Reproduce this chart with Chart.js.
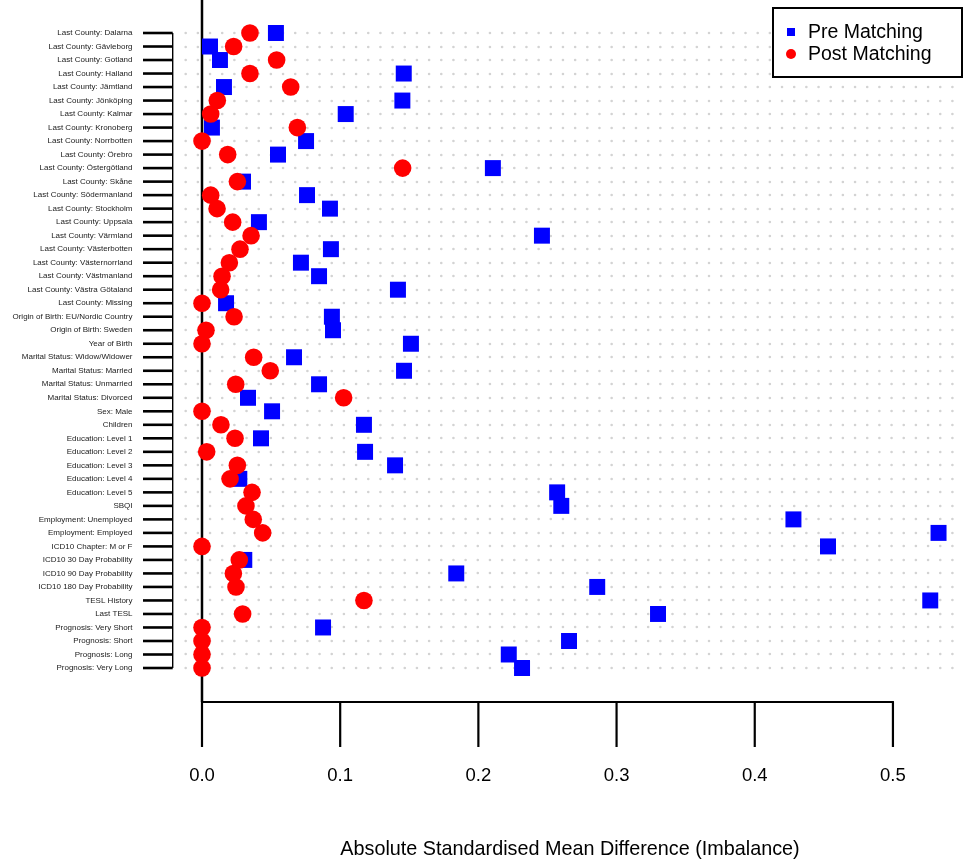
<!DOCTYPE html>
<html><head><meta charset="utf-8">
<script src="https://cdn.jsdelivr.net/npm/chart.js@4.4.0/dist/chart.umd.min.js"></script>
<style>html,body{margin:0;padding:0;background:#fff;overflow:hidden}canvas{display:block}</style>
</head><body>
<canvas id="c" width="963" height="865"></canvas>
<script>
const categories = [
  'Last County: Dalarna','Last County: Gävleborg','Last County: Gotland','Last County: Halland',
  'Last County: Jämtland','Last County: Jönköping','Last County: Kalmar','Last County: Kronoberg',
  'Last County: Norrbotten','Last County: Örebro','Last County: Östergötland','Last County: Skåne',
  'Last County: Södermanland','Last County: Stockholm','Last County: Uppsala','Last County: Värmland',
  'Last County: Västerbotten','Last County: Västernorrland','Last County: Västmanland','Last County: Västra Götaland',
  'Last County: Missing','Origin of Birth: EU/Nordic Country','Origin of Birth: Sweden','Year of Birth',
  'Marital Status: Widow/Widower','Marital Status: Married','Marital Status: Unmarried','Marital Status: Divorced',
  'Sex: Male','Children','Education: Level 1','Education: Level 2',
  'Education: Level 3','Education: Level 4','Education: Level 5','SBQI',
  'Employment: Unemployed','Employment: Employed','ICD10 Chapter: M or F','ICD10 30 Day Probability',
  'ICD10 90 Day Probability','ICD10 180 Day Probability','TESL History','Last TESL',
  'Prognosis: Very Short','Prognosis: Short','Prognosis: Long','Prognosis: Very Long'
];
const preMatching = [
  0.0535, 0.0058, 0.013, 0.146, 0.0159, 0.145, 0.104, 0.0072,
  0.0753, 0.055, 0.2105, 0.0297, 0.076, 0.0926, 0.0412, 0.246,
  0.0933, 0.0716, 0.0847, 0.1418, 0.0174, 0.094, 0.0948, 0.1512,
  0.0666, 0.1462, 0.0847, 0.0333, 0.0507, 0.1172, 0.0427, 0.118,
  0.1397, 0.027, 0.257, 0.26, 0.428, 0.533, 0.453, 0.0306,
  0.184, 0.286, 0.527, 0.330, 0.0876, 0.2656, 0.222, 0.2316
];
const postMatching = [
  0.0347, 0.0229, 0.054, 0.0347, 0.0642, 0.0111, 0.0063, 0.069,
  0.0, 0.0186, 0.1452, 0.0256, 0.0063, 0.0109, 0.0222, 0.0355,
  0.0275, 0.0198, 0.0145, 0.0135, 0.0, 0.0232, 0.0029, 0.0,
  0.0374, 0.0494, 0.0244, 0.1025, 0.0, 0.0137, 0.0239, 0.0034,
  0.0256, 0.0203, 0.0362, 0.0318, 0.0371, 0.0439, 0.0, 0.027,
  0.0227, 0.0246, 0.1172, 0.0294, 0.0, 0.0, 0.0, 0.0
];
const xTicks = [0, 0.1, 0.2, 0.3, 0.4, 0.5];
const xTickLabels = ['0.0', '0.1', '0.2', '0.3', '0.4', '0.5'];
const seriesNames = ['Pre Matching', 'Post Matching'];
const seriesColors = ['#0000FF', '#FF0000'];
const xTitle = 'Absolute Standardised Mean Difference (Imbalance)';

const FONT = '"Liberation Sans", Arial, Helvetica, sans-serif';

const drawPlugin = {
  id: 'rdraw',
  beforeDatasetsDraw(chart) {
    const ctx = chart.ctx, xs = chart.scales.x, ys = chart.scales.y;
    const W = chart.width;
    ctx.save();
    // dotted grid lines per row
    ctx.strokeStyle = '#d3d3d3';
    ctx.lineWidth = 2.6;
    ctx.lineCap = 'round';
    ctx.setLineDash([0, 12.17]);
    categories.forEach((c, i) => {
      const y = Math.round(ys.getPixelForValue(i));
      ctx.beginPath();
      ctx.moveTo(185.7, y);
      ctx.lineTo(W, y);
      ctx.stroke();
    });
    ctx.setLineDash([]);
    ctx.lineCap = 'butt';
    // zero reference line
    const x0 = xs.getPixelForValue(0);
    ctx.strokeStyle = '#000';
    ctx.lineWidth = 2.5;
    ctx.beginPath();
    ctx.moveTo(x0, 0);
    ctx.lineTo(x0, chart.chartArea.bottom);
    ctx.stroke();
    ctx.restore();
  },
  afterDraw(chart) {
    const ctx = chart.ctx, xs = chart.scales.x, ys = chart.scales.y;
    const bottom = chart.chartArea.bottom;
    ctx.save();
    // y axis
    const yTop = ys.getPixelForValue(0), yBot = ys.getPixelForValue(categories.length - 1);
    const axX = 172.7;
    ctx.strokeStyle = '#000';
    ctx.lineWidth = 1.4;
    ctx.beginPath();
    ctx.moveTo(axX, yTop); ctx.lineTo(axX, yBot);
    ctx.stroke();
    ctx.lineWidth = 2.6;
    ctx.fillStyle = '#1a1a1a';
    ctx.font = '8px ' + FONT;
    ctx.textAlign = 'right';
    ctx.textBaseline = 'middle';
    categories.forEach((c, i) => {
      const y = ys.getPixelForValue(i);
      ctx.beginPath();
      ctx.moveTo(143, y); ctx.lineTo(axX, y);
      ctx.stroke();
      ctx.fillText(c, 132.5, y);
    });
    // x axis
    const xa = xs.getPixelForValue(xTicks[0]), xb = xs.getPixelForValue(xTicks[xTicks.length - 1]);
    ctx.lineWidth = 2.2;
    ctx.beginPath();
    ctx.moveTo(xa - 1, bottom); ctx.lineTo(xb + 1, bottom);
    ctx.stroke();
    ctx.font = '18.5px ' + FONT;
    ctx.textAlign = 'center';
    ctx.fillStyle = '#000';
    xTicks.forEach((t, i) => {
      const x = xs.getPixelForValue(t);
      ctx.beginPath();
      ctx.moveTo(x, bottom); ctx.lineTo(x, bottom + 45);
      ctx.stroke();
      ctx.fillText(xTickLabels[i], x, bottom + 74);
    });
    ctx.font = '19.8px ' + FONT;
    ctx.fillText(xTitle, 570, 850);
    // legend
    ctx.fillStyle = '#fff';
    ctx.fillRect(773, 8, 189, 69);
    ctx.strokeStyle = '#000';
    ctx.lineWidth = 2;
    ctx.strokeRect(773, 8, 189, 69);
    ctx.textAlign = 'left';
    ctx.font = '19.5px ' + FONT;
    chart.data.datasets.forEach((ds, i) => {
      const ly = 32 + i * 22;
      ctx.fillStyle = ds.backgroundColor;
      if (ds.pointStyle === 'rect') {
        ctx.fillRect(787, ly - 4, 8, 8);
      } else {
        ctx.beginPath(); ctx.arc(791, ly, 5, 0, Math.PI * 2); ctx.fill();
      }
      ctx.fillStyle = '#000';
      ctx.fillText(ds.label, 808, ly + 1);
    });
    ctx.restore();
  }
};

const rows = categories.map((c, i) => i);
new Chart(document.getElementById('c'), {
  type: 'scatter',
  data: {
    datasets: [
      {
        label: seriesNames[0],
        data: rows.map(i => ({ x: preMatching[i], y: i })),
        pointStyle: 'rect', pointRadius: 11.3, borderWidth: 0,
        backgroundColor: seriesColors[0], borderColor: seriesColors[0], order: 2
      },
      {
        label: seriesNames[1],
        data: rows.map(i => ({ x: postMatching[i], y: i })),
        pointStyle: 'circle', pointRadius: 8.8, borderWidth: 0,
        backgroundColor: seriesColors[1], borderColor: seriesColors[1], order: 1
      }
    ]
  },
  options: {
    responsive: false,
    animation: false,
    events: [],
    devicePixelRatio: 1,
    layout: { autoPadding: false, padding: { left: 185, right: 0, top: 5, bottom: 163 } },
    plugins: { legend: { display: false }, tooltip: { enabled: false }, title: { display: false } },
    scales: {
      x: { type: 'linear', display: false, min: -0.0123, max: 0.5507 },
      y: { type: 'linear', display: false, reverse: true, min: -2.0724, max: 49.516 }
    }
  },
  plugins: [drawPlugin]
});
</script>
</body></html>
